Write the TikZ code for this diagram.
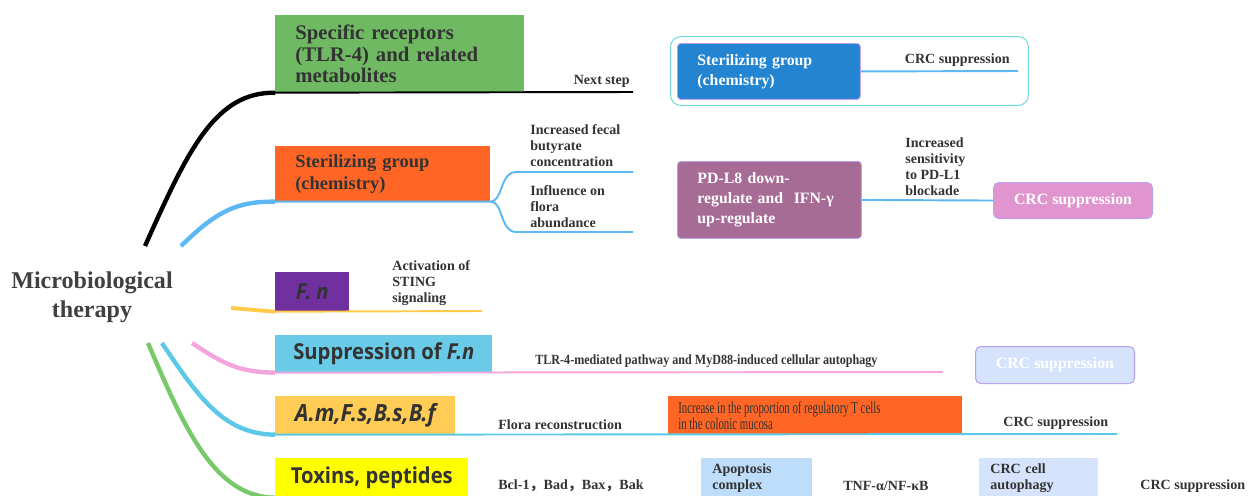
\documentclass[tikz,border=0pt]{standalone}
\usepackage{fontspec}
\setmainfont{Liberation Serif}
\newfontfamily\boxsans[FakeStretch=0.92]{Open Sans}
\newfontfamily\narrowserif[FakeStretch=0.65]{Liberation Serif}
\newfontfamily\tightserif[FakeStretch=0.86]{Liberation Serif}
\newfontfamily\cjk{Noto Sans CJK SC}
\usepackage{xcolor}
\definecolor{Ink}{HTML}{333333}
\definecolor{RootGray}{HTML}{404040}
\definecolor{LeafGreen}{HTML}{6FB963}
\definecolor{HotOrange}{HTML}{FF6625}
\definecolor{DeepBlue}{HTML}{2385D1}
\definecolor{Mauve}{HTML}{A66C96}
\definecolor{Orchid}{HTML}{E195CF}
\definecolor{Violet}{HTML}{7030A0}
\definecolor{SkyBox}{HTML}{69CBE8}
\definecolor{Amber}{HTML}{FFCD55}
\definecolor{Lemon}{HTML}{FFFF00}
\definecolor{PaleBlue}{HTML}{BDDDFA}
\definecolor{Mist}{HTML}{D5E3FC}
\definecolor{Lilac}{HTML}{B9A0F0}
\definecolor{FrameCyan}{HTML}{74D9D9}
\definecolor{SkyLine}{HTML}{5BB8F5}
\definecolor{PinkLine}{HTML}{F4A6DC}
\definecolor{CyanLine}{HTML}{5BC8E8}
\definecolor{GreenLine}{HTML}{77C96A}
\definecolor{FnYellow}{HTML}{FFC94A}
\usetikzlibrary{positioning,calc}

\begin{document}
\begin{tikzpicture}[x=0.02cm,y=-0.02cm,
  lbl/.style={inner sep=0pt,align=left,text=Ink,font=\fontsize{8}{9.2}\selectfont\bfseries},
  tbox/.style={anchor=north west,inner xsep=0.4cm,inner ysep=0pt,align=left,text=Ink,
    font=\fontsize{11.8}{12.3}\selectfont\bfseries},
  wbox/.style={anchor=north west,inner xsep=0.4cm,inner ysep=0pt,align=left,text=white,
    rounded corners=2pt,draw=Lilac,line width=0.5pt,font=\fontsize{9}{11.4}\selectfont\bfseries},
  cbox/.style={anchor=north west,inner sep=0pt,text=white,rounded corners=3pt,draw=Lilac,
    line width=0.6pt,font=\fontsize{9}{11}\selectfont\bfseries},
  sbox/.style={anchor=north west,inner sep=0pt,text=Ink,font=\boxsans\fontsize{12.5}{14}\selectfont\bfseries},
  bbox/.style={anchor=north west,inner xsep=0.22cm,inner ysep=0pt,align=left,text=Ink,
    font=\fontsize{8}{9.2}\selectfont\bfseries},
  curve/.style={line width=2.5pt},
  flat/.style={line width=1.1pt}]
\useasboundingbox (0,0) rectangle (1252,495);
\clip (0,0) rectangle (1252,495);

% root
\node[font=\fontsize{13.7}{16.5}\selectfont\bfseries,text=RootGray,align=center] (root) at (92,297)
  {Microbiological\\therapy};

% receptors branch
\node[tbox,fill=LeafGreen,text width=4.18cm,minimum height=1.54cm] (rcpt) at (275,15)
  {Specific receptors\\(TLR-4) and related\\metabolites};
\coordinate (rcpt-in) at (145,246);
\coordinate (next-end) at (633,92);
\draw[curve] (rcpt-in) .. controls (188,150) and (215,92) .. (rcpt.south west);
\draw[flat] (rcpt.south west) -- (next-end);
\node[lbl,anchor=south east] (nextstep) at (630,88) {Next step};

% sterilizing branch
\node[tbox,fill=HotOrange,text width=3.5cm,minimum height=1.1cm,font=\fontsize{10.5}{12.5}\selectfont\bfseries]
  (steril) at (275,146) {Sterilizing group\\(chemistry)};
\coordinate (steril-in) at (181,246);
\coordinate (fork-up) at (516,172);
\coordinate (fork-dn) at (516,232);
\coordinate (fecal-end) at (633,172);
\coordinate (abund-end) at (633,232);
\draw[curve,SkyLine] (steril-in) .. controls (215,213) and (235,201) .. (steril.south west);
\draw[flat,SkyLine] (steril.south west) -- (steril.south east)
  .. controls (503,201) and (500,172) .. (fork-up) -- (fecal-end);
\draw[flat,SkyLine] (steril.south east) .. controls (503,201) and (500,232) .. (fork-dn) -- (abund-end);
\node[lbl,anchor=south west] (fecal) at (530,167) {Increased fecal\\butyrate\\concentration};
\node[lbl,anchor=south west] (abund) at (530,228) {Influence on\\flora\\abundance};

% right side, top
\node[draw=FrameCyan,line width=0.6pt,rounded corners=6pt,anchor=north west,inner sep=0pt,
  minimum width=7.16cm,minimum height=1.38cm] (frame) at (670,36) {};
\node[wbox,fill=DeepBlue,text width=2.86cm,minimum height=1.12cm] (sterilb) at (677,43)
  {Sterilizing group\\(chemistry)};
\coordinate (crctop-end) at (1018,71);
\draw[flat,SkyLine] (sterilb.east) -- (crctop-end);
\node[lbl,anchor=south east] (crctop) at (1010,67) {CRC suppression};

\node[wbox,fill=Mauve,text width=2.88cm,minimum height=1.54cm] (pdl8) at (677,161)
  {PD-L8 down-\\regulate and\ \ IFN-γ\\up-regulate};
\node[cbox,fill=Orchid,minimum width=3.18cm,minimum height=0.72cm] (crcpink) at (993,182) {CRC suppression};
\draw[flat,SkyLine] (pdl8.east) -- (crcpink.west);
\node[lbl,anchor=south west] (sens) at (905,196) {Increased\\sensitivity\\to PD-L1\\blockade};

% F. n branch
\node[sbox,fill=Violet,minimum width=1.48cm,minimum height=0.78cm] (fn) at (275,272) {\itshape F. n};
\coordinate (fn-in) at (231,308);
\coordinate (sting-end) at (482,311);
\draw[FnYellow,line width=2.2pt] (fn-in) -- (fn.south west);
\draw[flat,FnYellow] (fn.south west) -- (sting-end);
\node[lbl,anchor=south west] (sting) at (392,306) {Activation of\\STING\\signaling};

% suppression branch
\node[sbox,fill=SkyBox,minimum width=4.34cm,minimum height=0.74cm] (supp) at (275,335)
  {Suppression of \textit{F.n}};
\coordinate (supp-in) at (192,343);
\coordinate (tlr-end) at (943,372);
\draw[curve,PinkLine] (supp-in) .. controls (225,365) and (240,372) .. (supp.south west);
\draw[flat,PinkLine] (supp.south west) -- (tlr-end);
\node[lbl,anchor=south west,font=\tightserif\fontsize{8}{9.2}\selectfont\bfseries] (tlr) at (535,368)
  {TLR-4-mediated pathway and MyD88-induced cellular autophagy};
\node[cbox,fill=Mist,minimum width=3.18cm,minimum height=0.74cm] (crcmist) at (975,346) {CRC suppression};

% flora branch
\node[sbox,fill=Amber,minimum width=3.6cm,minimum height=0.76cm,font=\boxsans\fontsize{13.5}{14}\selectfont\bfseries]
  (amfs) at (275,396) {\itshape A.m,F.s,B.s,B.f};
\node[anchor=north west,fill=HotOrange,inner xsep=0.2cm,inner ysep=0pt,text width=5.48cm,
  minimum height=0.76cm,align=left,text=Ink,font=\narrowserif\fontsize{9.5}{9.2}\selectfont] (treg)
  at (668,396) {\spaceskip=1.5pt\relax Increase in the proportion of regulatory T cells\\in the colonic mucosa};
\coordinate (flora-in) at (162,343);
\coordinate (floracrc-end) at (1117,434);
\draw[curve,CyanLine] (flora-in) .. controls (200,400) and (225,434) .. (amfs.south west);
\draw[flat,CyanLine] (amfs.south west) -- (floracrc-end);
\node[lbl,anchor=south west] (recon) at (498,430) {Flora reconstruction};
\node[lbl,anchor=south west] (crcmid) at (1003,430) {CRC suppression};

% toxins branch
\node[sbox,fill=Lemon,minimum width=3.86cm,minimum height=0.78cm] (toxin) at (275,458) {Toxins, peptides};
\coordinate (toxin-in) at (148,343);
\draw[curve,GreenLine] (toxin-in) .. controls (185,430) and (215,497) .. (toxin.south west);
\node[lbl,anchor=west] (bcl) at (498,486) {Bcl-1{\cjk ，}Bad{\cjk ，}Bax{\cjk ，}Bak};
\node[bbox,fill=PaleBlue,text width=1.78cm,minimum height=0.78cm] (apop) at (701,458) {Apoptosis\\complex};
\node[lbl,anchor=west] (tnf) at (843,486) {TNF-α/NF-κB};
\node[bbox,fill=Mist,text width=1.94cm,minimum height=0.78cm] (autoph) at (979,458) {CRC cell\\autophagy};
\node[lbl,anchor=west] (crcend) at (1140,486) {CRC suppression};
\end{tikzpicture}
\end{document}
